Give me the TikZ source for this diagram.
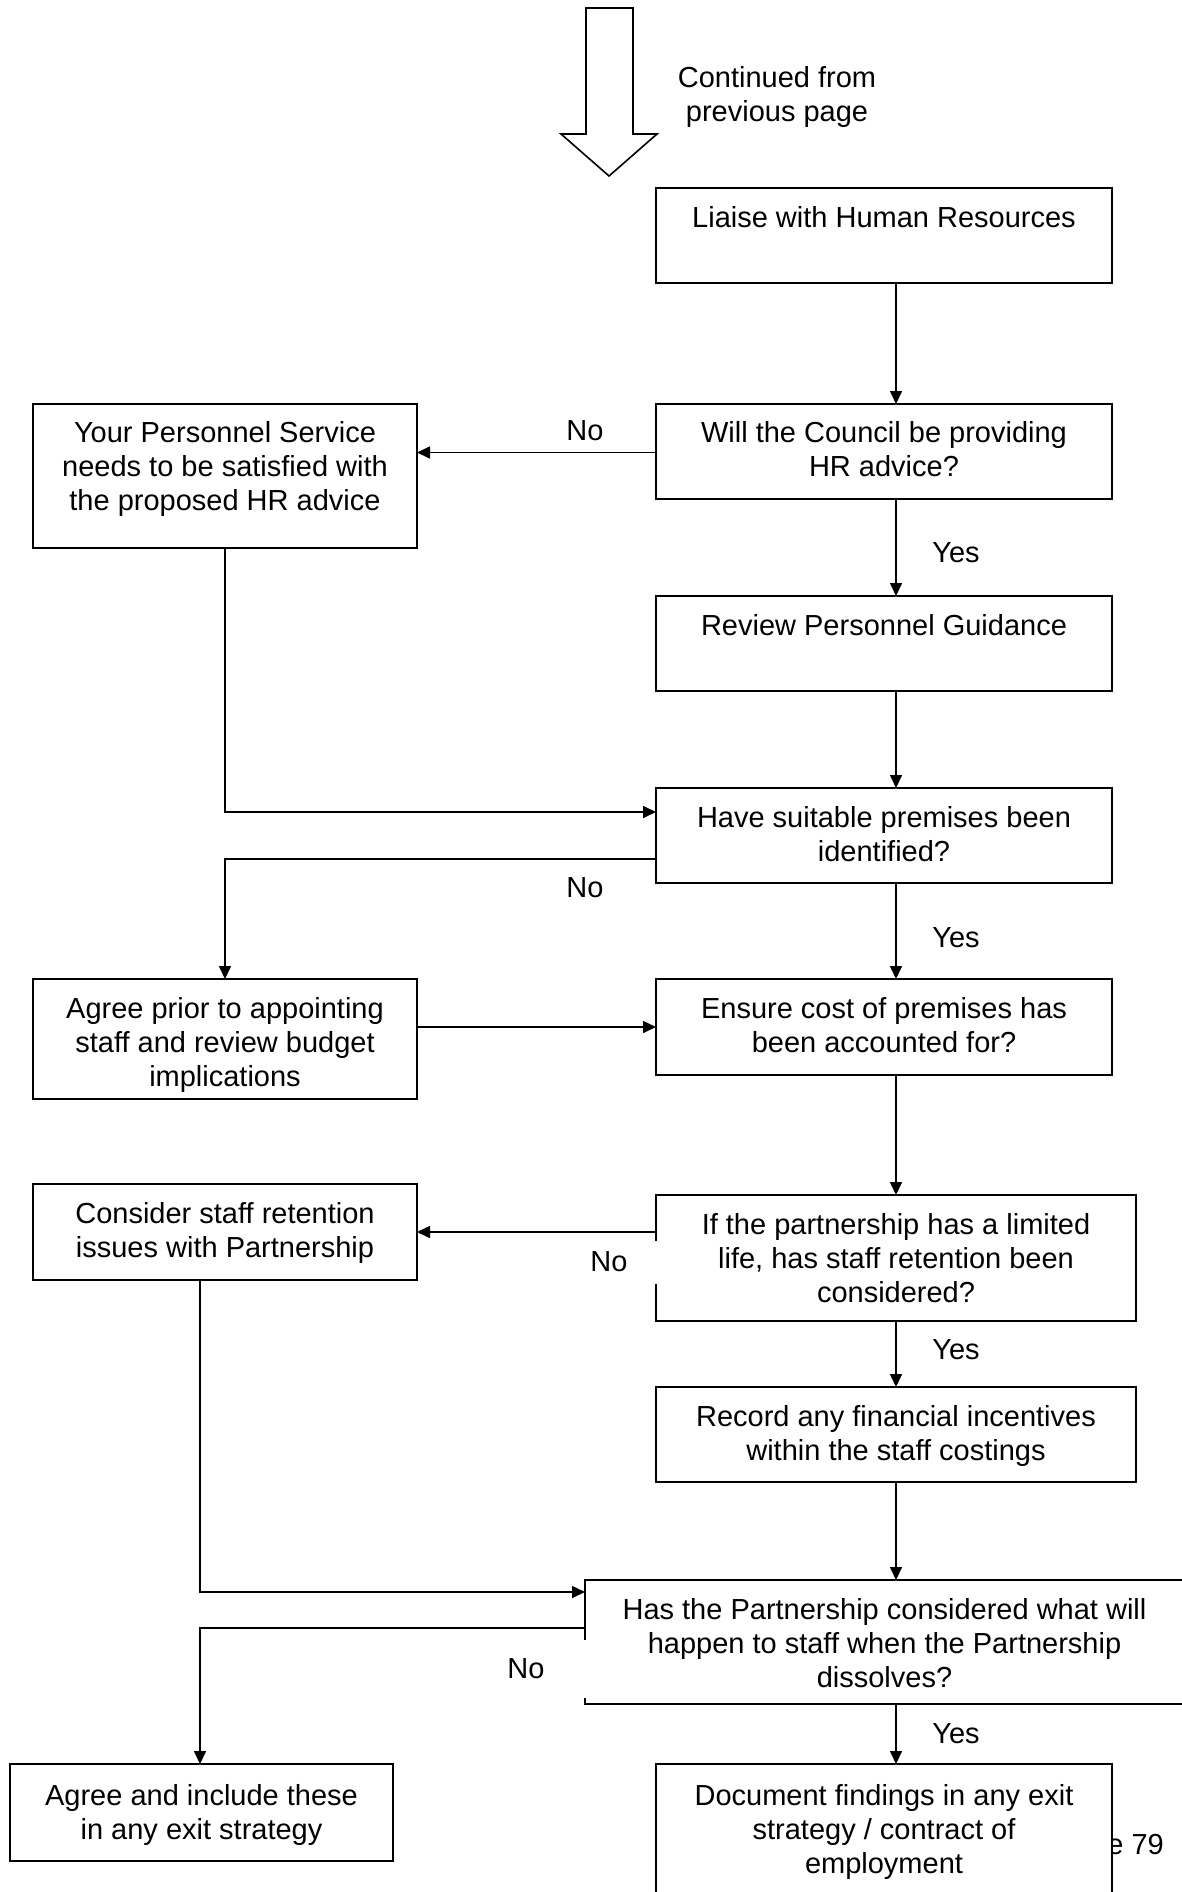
\documentclass[tikz,border=0pt]{standalone}
\usepackage{fontspec}
\setmainfont{Liberation Sans}
\usetikzlibrary{arrows.meta,calc}
\begin{document}
\begin{tikzpicture}[x=1pt,y=-1pt,
  every node/.style={font=\fontsize{29}{34}\selectfont},
  box/.style={draw, line width=1.6pt, fill=white, inner sep=0pt, outer sep=0pt, anchor=north west},
  boxtext/.style={align=center, inner sep=0pt, anchor=north, execute at begin node=\strut},
  flow/.style={line width=1.6pt, -{Triangle[length=13pt,width=12pt]}},
  tag/.style={inner sep=0pt},
  gaptag/.style={tag, fill=white}
]
\clip (0,0) rectangle (1182,1892);

% arrow coming in from the previous page
\draw[line width=1.6pt, fill=white] (586,8) -- (633,8) -- (633,134) -- (657,134)
  -- (609,176) -- (561,134) -- (586,134) -- cycle;
\node[tag, align=center] (cont) at (777,97) {Continued from\\previous page};

% page number, partly hidden behind the last box
\node[tag, anchor=east] (pageno) at (1164,1847) {Page 79};

% columns for the vertical connectors
\coordinate (colR) at (896,0);
\coordinate (colL) at (200,0);

% boxes
\node[box, minimum width=456pt, minimum height=95pt]  (liaise)    at (656,188)  {};
\node[box, minimum width=456pt, minimum height=95pt]  (council)   at (656,404)  {};
\node[box, minimum width=384pt, minimum height=144pt] (personnel) at (33,404)   {};
\node[box, minimum width=456pt, minimum height=95pt]  (review)    at (656,596)  {};
\node[box, minimum width=456pt, minimum height=95pt]  (premises)  at (656,788)  {};
\node[box, minimum width=384pt, minimum height=120pt] (agree)     at (33,979)   {};
\node[box, minimum width=456pt, minimum height=96pt]  (cost)      at (656,979)  {};
\node[box, minimum width=480pt, minimum height=126pt] (retention) at (656,1195) {};
\node[box, minimum width=384pt, minimum height=96pt]  (staffiss)  at (33,1184)  {};
\node[box, minimum width=480pt, minimum height=95pt]  (record)    at (656,1387) {};
\node[box, minimum width=599pt, minimum height=124pt] (dissolve)  at (585,1580) {};
\node[box, minimum width=383pt, minimum height=97pt]  (exitagree) at (10,1764)  {};
\node[box, minimum width=456pt, minimum height=140pt] (document)  at (656,1764) {};

% box texts
\node[boxtext] (liaiseT)    at ($(liaise.north)+(0,15)$)    {Liaise with Human Resources};
\node[boxtext] (councilT)   at ($(council.north)+(0,17)$)   {Will the Council be providing\\HR advice?};
\node[boxtext] (personnelT) at ($(personnel.north)+(0,17)$) {Your Personnel Service\\needs to be satisfied with\\the proposed HR advice};
\node[boxtext] (reviewT)    at ($(review.north)+(0,15)$)    {Review Personnel Guidance};
\node[boxtext] (premisesT)  at ($(premises.north)+(0,18)$)  {Have suitable premises been\\identified?};
\node[boxtext] (agreeT)     at ($(agree.north)+(0,18)$)     {Agree prior to appointing\\staff and review budget\\implications};
\node[boxtext] (costT)      at ($(cost.north)+(0,18)$)      {Ensure cost of premises has\\been accounted for?};
\node[boxtext] (retentionT) at ($(retention.north)+(0,18)$) {If the partnership has a limited\\life, has staff retention been\\considered?};
\node[boxtext] (staffissT)  at ($(staffiss.north)+(0,18)$)  {Consider staff retention\\issues with Partnership};
\node[boxtext] (recordT)    at ($(record.north)+(0,18)$)    {Record any financial incentives\\within the staff costings};
\node[boxtext] (dissolveT)  at ($(dissolve.north)+(0,18)$)  {Has the Partnership considered what will\\happen to staff when the Partnership\\dissolves?};
\node[boxtext] (exitagreeT) at ($(exitagree.north)+(0,20)$) {Agree and include these\\in any exit strategy};
\node[boxtext] (documentT)  at ($(document.north)+(0,20)$)  {Document findings in any exit\\strategy / contract of\\employment};

% connectors
\draw[flow] (liaise.south -| colR) -- (council.north -| colR);
\draw[flow] ($(council.west)+(0,1)$) -- ($(council.west -| personnel.east)+(0,1)$);
\draw[flow] (council.south -| colR) -- (review.north -| colR);
\draw[flow] (review.south -| colR) -- (premises.north -| colR);
\draw[flow] (personnel.south) |- ($(premises.north west)+(0,24)$);
\draw[flow] ($(premises.north west)+(0,71)$) -| (agree.north);
\draw[flow] (premises.south -| colR) -- (cost.north -| colR);
\draw[flow] (agree.east |- cost.west) -- (cost.west);
\draw[flow] (cost.south -| colR) -- (retention.north -| colR);
\draw[flow] (retention.west |- staffiss.east) -- (staffiss.east);
\draw[flow] (retention.south -| colR) -- (record.north -| colR);
\draw[flow] (record.south -| colR) -- (dissolve.north -| colR);
\draw[flow] (staffiss.south -| colL) |- ($(dissolve.north west)+(0,12)$);
\draw[flow] ($(dissolve.north west)+(0,48)$) -| (exitagree.north -| colL);
\draw[flow] (dissolve.south -| colR) -- (document.north -| colR);

% branch labels
\node[tag] (no1)  at (585,431)  {No};
\node[tag] (yes1) at (956,553)  {Yes};
\node[tag] (no2)  at (585,888)  {No};
\node[tag] (yes2) at (956,938)  {Yes};
\node[gaptag, minimum width=97pt, minimum height=43pt] (no3) at (609,1262) {No};
\node[tag] (yes3) at (956,1350) {Yes};
\node[gaptag, minimum width=121pt, minimum height=58pt] (no4) at (526,1669) {No};
\node[tag] (yes4) at (956,1734) {Yes};
\end{tikzpicture}
\end{document}
